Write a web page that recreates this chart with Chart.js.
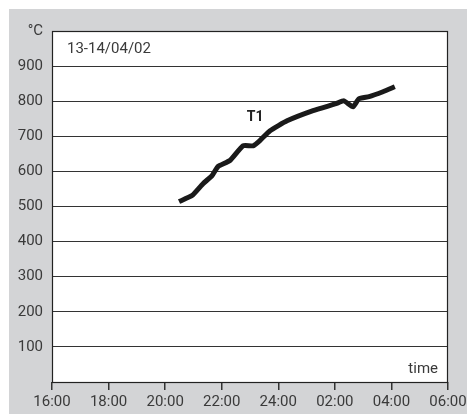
<!DOCTYPE html>
<html>
<head>
<meta charset="utf-8">
<script src="https://cdn.jsdelivr.net/npm/chart.js@4"></script>
<style>
  html, body { margin: 0; padding: 0; background: #fff; }
  #wrap { width: 476px; height: 414px; }
</style>
</head>
<body>
<div id="wrap"><canvas id="myChart" width="476" height="414"></canvas></div>
<script>
// hours after 16:00 and temperature readings of T1
var hoursAfter16 = [4.49, 4.95, 5.34, 5.66, 5.87, 6.29, 6.75, 7.11, 7.35, 7.71, 8.31, 9.23, 10.04, 10.32, 10.64, 10.85, 11.21, 11.70, 12.12];
var tempT1 = [514, 531, 565, 588, 614, 631, 673, 673, 688, 716, 744, 773, 793, 801, 784, 807, 813, 827, 841];
var xTickLabels = ['16:00', '18:00', '20:00', '22:00', '24:00', '02:00', '04:00', '06:00'];
var seriesName = 'T1';
var dateText = '13-14/04/02';

var fontFamily = 'Roboto, "Liberation Sans", sans-serif';

var points = hoursAfter16.map(function (h, i) { return { x: h, y: tempT1[i] }; });

// grey panel, white plot box, frame and text notes
var decor = {
    id: 'decor',
    beforeDraw: function (chart) {
        var c = chart.ctx, a = chart.chartArea;
        c.save();
        c.fillStyle = '#d3d4d6';
        c.fillRect(9, 9, 458, 405);
        c.fillStyle = '#ffffff';
        c.fillRect(a.left, a.top, a.right - a.left, a.bottom - a.top);
        c.restore();
    },
    afterDraw: function (chart) {
        var c = chart.ctx, a = chart.chartArea;
        c.save();
        c.strokeStyle = '#222';
        c.lineWidth = 1.2;
        c.strokeRect(a.left + 0.5, a.top + 0.5, a.right - a.left - 1, a.bottom - a.top);
        c.fillStyle = '#3a3a3a';
        c.font = '15px ' + fontFamily;
        c.textBaseline = 'middle';
        c.textAlign = 'left';
        c.fillText(dateText, a.left + 15, a.top + 18);
        c.textAlign = 'right';
        c.fillText('time', a.right - 10, a.bottom - 13);
        var xs = chart.scales.x, ys = chart.scales.y;
        c.fillStyle = '#222';
        c.font = 'bold 14px ' + fontFamily;
        c.textAlign = 'center';
        c.fillText(seriesName, xs.getPixelForValue(7.18), ys.getPixelForValue(753));
        c.restore();
    }
};

var ctx = document.getElementById('myChart').getContext('2d');
var chart = new Chart(ctx, {
    type: 'line',
    data: {
        datasets: [{
            label: seriesName,
            data: points,
            borderColor: '#1a1a1a',
            borderWidth: 5,
            pointRadius: 0,
            tension: 0.15,
            borderCapStyle: 'butt',
            borderJoinStyle: 'round',
            fill: false
        }]
    },
    options: {
        responsive: false,
        animation: false,
        layout: { padding: { left: 0, top: 31, right: 28, bottom: 0 } },
        plugins: {
            legend: { display: false },
            tooltip: { enabled: false }
        },
        scales: {
            x: {
                type: 'linear',
                min: 0,
                max: 14,
                afterFit: function (s) { s.height = 32; },
                border: { display: false },
                grid: {
                    drawOnChartArea: false,
                    drawTicks: true,
                    tickLength: 8,
                    color: '#333',
                    lineWidth: 1.5
                },
                ticks: {
                    stepSize: 2,
                    padding: 3,
                    maxRotation: 0,
                    color: '#3a3a3a',
                    font: { family: fontFamily, size: 15 },
                    callback: function (v) { return xTickLabels[v / 2]; }
                }
            },
            y: {
                min: 0,
                max: 1000,
                afterFit: function (s) { s.width = 52; },
                border: { display: false },
                grid: {
                    drawTicks: false,
                    color: '#333',
                    lineWidth: 1
                },
                ticks: {
                    stepSize: 100,
                    padding: 9,
                    color: '#3a3a3a',
                    font: { family: fontFamily, size: 15 },
                    callback: function (v) {
                        if (v === 0) return '';
                        if (v === 1000) return '°C';
                        return v;
                    }
                }
            }
        }
    },
    plugins: [decor]
});
</script>
</body>
</html>
